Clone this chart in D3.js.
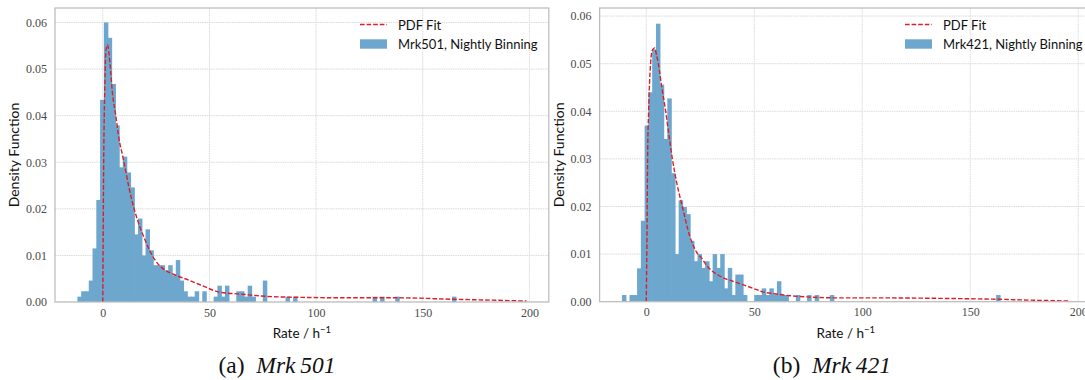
<!DOCTYPE html>
<html>
<head>
<meta charset="utf-8">
<script src="https://cdn.jsdelivr.net/npm/d3@7"></script>
<style>
  html, body { margin: 0; padding: 0; background: #fff; }
  svg { display: block; }
</style>
</head>
<body>
<div id="root"></div>
<script>
// ---- data ----
const xTicks = [0, 50, 100, 150, 200];
const yTicks = [0, 0.01, 0.02, 0.03, 0.04, 0.05, 0.06];

// Mrk 501 nightly rates, 100 bins
const mrk501BinStart = -11.9;
const mrk501BinWidth = 1.774;
const mrk501Density = [
  0.00115, 0.0023, 0.0023, 0.0046, 0.0115, 0.0219, 0.0434, 0.0600, 0.0567, 0.0468,
  0.0379, 0.0289, 0.0312, 0.0278, 0.0246, 0.0145, 0.0179, 0.0100, 0.0156, 0.0111,
  0.0079, 0.0079, 0.0079, 0.0068, 0.0079, 0.0057, 0.0090, 0.0046, 0.0023, 0.00115,
  0.00115, 0.0023, 0, 0.0023, 0, 0, 0.00115, 0.0035, 0.00115, 0.0035,
  0, 0, 0.0023, 0.0023, 0.00115, 0.0035, 0.00115, 0, 0, 0.0046,
  0, 0, 0, 0, 0, 0.00115, 0, 0.00115, 0, 0,
  0, 0, 0, 0, 0, 0, 0, 0, 0, 0,
  0, 0, 0, 0, 0, 0, 0, 0, 0.00115, 0,
  0.00115, 0, 0, 0, 0.00115, 0, 0, 0, 0, 0,
  0, 0, 0, 0, 0, 0, 0, 0, 0, 0.00115
];
const mrk501FitX = [0, 0.35, 1.0, 1.5, 2.2, 3.4, 4.5, 6.1, 7.6, 9.2, 10.8, 12.3, 14.7, 17.0, 19.4,
  21.7, 24.8, 28.7, 33.4, 39.7, 45.6, 55, 64.6, 77, 92.5, 116, 139, 163, 182, 198.6];
const mrk501FitY = [0, 0.026, 0.047, 0.054, 0.0552, 0.051, 0.045, 0.040, 0.035, 0.0316, 0.028, 0.0245,
  0.020, 0.0166, 0.0138, 0.0113, 0.0088, 0.0070, 0.0059, 0.0048, 0.0037, 0.0021, 0.0017, 0.0012,
  0.0010, 0.0009, 0.0009, 0.0006, 0.0004, 0.0002];

// Mrk 421 nightly rates, 100 bins
const mrk421BinStart = -11.25;
const mrk421BinWidth = 1.75;
const mrk421Density = [
  0.0014, 0, 0.0014, 0.0014, 0.0070, 0.0170, 0.0370, 0.0440, 0.0530, 0.0584,
  0.0456, 0.0342, 0.0427, 0.0270, 0.0100, 0.0213, 0.0199, 0.0184, 0.0128, 0.0085,
  0.0100, 0.0071, 0.0085, 0.0043, 0.0100, 0.0071, 0.0100, 0.0028, 0.0071, 0.0014,
  0.0057, 0.0057, 0.0014, 0, 0, 0.0014, 0.0014, 0.0028, 0.0014, 0.0028,
  0.0014, 0.0043, 0.0014, 0.0014, 0, 0, 0.0014, 0, 0, 0.0014,
  0, 0.0014, 0, 0, 0, 0.0014, 0, 0, 0, 0,
  0, 0, 0, 0, 0, 0, 0, 0, 0, 0,
  0, 0, 0, 0, 0, 0, 0, 0, 0, 0,
  0, 0, 0, 0, 0, 0, 0, 0, 0, 0,
  0, 0, 0, 0, 0, 0, 0, 0, 0, 0.0014
];
const mrk421FitX = [0, 0.3, 0.62, 1.1, 2.0, 2.8, 3.9, 4.7, 5.6, 7.2, 9.0, 10.5, 12.1, 14.1, 16.7,
  20.2, 23.3, 25.9, 28, 34, 40, 44, 49.5, 53, 62, 71, 90, 110, 136, 164, 180, 196];
const mrk421FitY = [0, 0.012, 0.030, 0.040, 0.050, 0.0528, 0.0533, 0.052, 0.050, 0.045, 0.040, 0.035,
  0.030, 0.025, 0.020, 0.0137, 0.0104, 0.0090, 0.0076, 0.0054, 0.0043, 0.0037, 0.0028, 0.0022,
  0.0015, 0.0011, 0.0008, 0.0008, 0.0007, 0.0005, 0.0003, 0.00015];

const fitLabel = "PDF Fit";
const histLabels = ["Mrk501, Nightly Binning", "Mrk421, Nightly Binning"];
const captionTags = ["(a)", "(b)"];
const captionNames = ["Mrk\u2009501", "Mrk\u2009421"];

// ---- drawing ----
const W = 1085, H = 380;
const serif = "'Liberation Serif', 'DejaVu Serif', serif";
const sans = "Lato, 'Open Sans', 'DejaVu Sans', sans-serif";
const barColor = "#6da7ce";   // C0 at alpha .65 over white
const fitColor = "#dc1e28";

const svg = d3.select("#root").append("svg")
  .attr("width", W)
  .attr("height", H);

function drawPanel(p) {
  const x = d3.scaleLinear().domain(p.xlim).range([p.left, p.right]);
  const y = d3.scaleLinear().domain(p.ylim).range([p.bottom, p.top]);

  const g = svg.append("g");
  const clipId = "clip" + p.id;
  g.append("clipPath").attr("id", clipId)
    .append("rect")
    .attr("x", p.left).attr("y", p.top)
    .attr("width", p.right - p.left).attr("height", p.bottom - p.top);

  const plot = g.append("g").attr("clip-path", `url(#${clipId})`);

  // grid
  plot.selectAll(".vgrid").data(xTicks).enter().append("line")
    .attr("x1", d => x(d)).attr("x2", d => x(d))
    .attr("y1", p.top).attr("y2", p.bottom)
    .attr("stroke", "#dadada").attr("stroke-width", 1)
    .attr("stroke-dasharray", "1.5,0.8");
  plot.selectAll(".hgrid").data(yTicks).enter().append("line")
    .attr("x1", p.left).attr("x2", p.right)
    .attr("y1", d => y(d)).attr("y2", d => y(d))
    .attr("stroke", "#dadada").attr("stroke-width", 1)
    .attr("stroke-dasharray", "1.5,0.8");

  // histogram bars (slightly widened so neighbours overlap, no seams)
  const bins = p.density.map((d, i) => ({
    x0: p.binStart + i * p.binWidth,
    x1: p.binStart + (i + 1) * p.binWidth,
    v: d
  })).filter(b => b.v > 0);
  plot.selectAll(".bar").data(bins).enter().append("rect")
    .attr("x", d => x(d.x0))
    .attr("width", d => x(d.x1) - x(d.x0) + 0.7)
    .attr("y", d => y(d.v))
    .attr("height", d => y(0) - y(d.v))
    .attr("fill", barColor);

  // fit curve
  const pts = p.fitX.map((d, i) => [d, p.fitY[i]]);
  plot.append("path")
    .datum(pts)
    .attr("fill", "none")
    .attr("stroke", fitColor)
    .attr("stroke-width", 1.4)
    .attr("stroke-dasharray", "4.6,2")
    .attr("d", d3.line().x(d => x(d[0])).y(d => y(d[1])).curve(d3.curveMonotoneX));

  // frame
  g.append("rect")
    .attr("x", p.left).attr("y", p.top)
    .attr("width", p.right - p.left).attr("height", p.bottom - p.top)
    .attr("fill", "none").attr("stroke", "#bdbdbd").attr("stroke-width", 1.25);

  // axes
  const xa = g.append("g")
    .attr("transform", `translate(0,${p.bottom})`)
    .call(d3.axisBottom(x).tickValues(xTicks).tickSize(0).tickPadding(6).tickFormat(d3.format("d")));
  const ya = g.append("g")
    .attr("transform", `translate(${p.left},0)`)
    .call(d3.axisLeft(y).tickValues(yTicks).tickSize(0).tickPadding(8).tickFormat(d3.format(".2f")));
  [xa, ya].forEach(a => {
    a.select(".domain").remove();
    a.selectAll("text")
      .attr("font-family", serif)
      .attr("font-size", 12)
      .attr("fill", "#4a4a4a");
  });

  // axis titles
  const xl = g.append("text")
    .attr("x", (p.left + p.right) / 2)
    .attr("y", 338)
    .attr("text-anchor", "middle")
    .attr("font-family", sans)
    .attr("font-size", 13.5)
    .attr("fill", "#111");
  xl.append("tspan").text("Rate / h");
  xl.append("tspan").attr("dy", -5.5).attr("font-size", 9.5).text("\u22121");

  g.append("text")
    .attr("transform", `translate(${p.left - 36},${(p.top + p.bottom) / 2}) rotate(-90)`)
    .attr("text-anchor", "middle")
    .attr("font-family", sans)
    .attr("font-size", 14)
    .attr("fill", "#111")
    .text("Density Function");

  // legend
  const lx = p.legendX;
  g.append("line")
    .attr("x1", lx).attr("x2", lx + 27)
    .attr("y1", 24.5).attr("y2", 24.5)
    .attr("stroke", fitColor).attr("stroke-width", 1.4)
    .attr("stroke-dasharray", "4.6,2");
  g.append("text")
    .attr("x", lx + 38).attr("y", 29.5)
    .attr("font-family", sans).attr("font-size", 13).attr("fill", "#111")
    .text(fitLabel);
  g.append("rect")
    .attr("x", lx).attr("y", 39.3)
    .attr("width", 27).attr("height", 9.4)
    .attr("fill", barColor);
  g.append("text")
    .attr("x", lx + 38).attr("y", 48.9)
    .attr("font-family", sans).attr("font-size", 13).attr("fill", "#111")
    .text(p.histLabel);

  // caption
  const cap = svg.append("text")
    .attr("x", p.captionX).attr("y", 373)
    .attr("text-anchor", "middle")
    .attr("font-family", serif)
    .attr("font-size", 23.5)
    .attr("fill", "#111");
  cap.append("tspan").text(p.captionTag + "\u00a0 ");
  cap.append("tspan").attr("font-style", "italic").text(p.captionName);
}

drawPanel({
  id: 1,
  left: 55, right: 548.8, top: 8, bottom: 302,
  xlim: [-22.4, 209.1], ylim: [0, 0.0631],
  binStart: mrk501BinStart, binWidth: mrk501BinWidth, density: mrk501Density,
  fitX: mrk501FitX, fitY: mrk501FitY,
  histLabel: histLabels[0],
  legendX: 360,
  captionTag: captionTags[0], captionName: captionNames[0], captionX: 277
});

drawPanel({
  id: 2,
  left: 599.6, right: 1092, top: 8, bottom: 301.7,
  xlim: [-21.6, 206.4], ylim: [0, 0.0617],
  binStart: mrk421BinStart, binWidth: mrk421BinWidth, density: mrk421Density,
  fitX: mrk421FitX, fitY: mrk421FitY,
  histLabel: histLabels[1],
  legendX: 905,
  captionTag: captionTags[1], captionName: captionNames[1], captionX: 832
});
</script>
</body>
</html>
